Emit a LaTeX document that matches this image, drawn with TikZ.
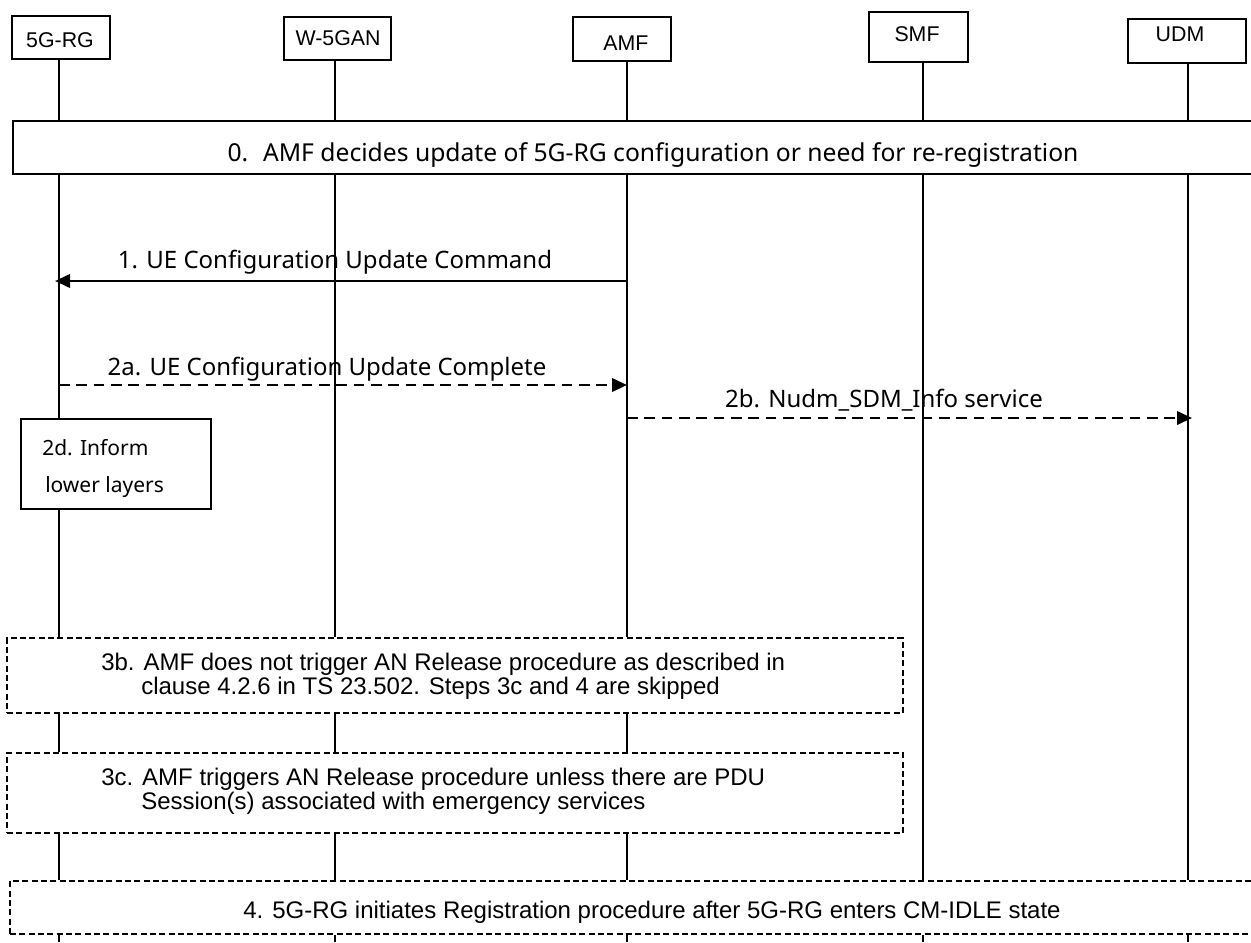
\documentclass[tikz,border=0pt]{standalone}
\usepackage{fontspec}
\setmainfont{Noto Sans}
\newfontfamily\arialf{Liberation Sans}
\usetikzlibrary{arrows.meta,fit}
\begin{document}
\begin{tikzpicture}[x=0.75pt,y=-0.75pt,
  hbox/.style={draw, line width=1.5pt, inner sep=0pt, fill=white},
  htext/.style={font=\arialf\fontsize{16}{18}\selectfont, inner sep=0pt},
  bigbox/.style={draw, line width=1.8pt, inner sep=0pt, fill=white},
  infobox/.style={draw, line width=1.6pt, inner sep=0pt, fill=white},
  dbox/.style={draw, line width=1.4pt, dash pattern=on 4.5pt off 2.5pt, inner sep=0pt, fill=white},
  life/.style={line width=1.4pt},
  msg/.style={line width=2.1pt, -{Triangle[length=11.25pt,width=10pt]}},
  dmsg/.style={msg, dash pattern=on 8pt off 5pt},
  lbl/.style={font=\fontsize{18}{21}\selectfont, inner sep=0pt, anchor=base},
  slbl/.style={font=\fontsize{15.75}{18}\selectfont, inner sep=0pt, anchor=base west},
  nlbl/.style={font=\arialf\fontsize{18}{20}\selectfont, inner sep=0pt, anchor=base west},
  nlblc/.style={font=\arialf\fontsize{18}{20}\selectfont, inner sep=0pt, anchor=base}]
\useasboundingbox (0,0) rectangle (1251,942);

% lifeline x positions and helper coordinates
\coordinate (x1) at (59,0);
\coordinate (x2) at (335,0);
\coordinate (x3) at (627,0);
\coordinate (x4) at (923,0);
\coordinate (x5) at (1188,0);
\coordinate (bot) at (0,942);
\coordinate (m1) at (0,281);
\coordinate (m2a) at (0,385);
\coordinate (m2b) at (0,418);

% header boxes
\node[hbox, fit={(12,16) (110,59)}] (h1) {};
\node[hbox, fit={(284,17) (391,60)}] (h2) {};
\node[hbox, fit={(573,17) (671,61)}] (h3) {};
\node[hbox, fit={(869,12) (968,62)}] (h4) {};
\node[hbox, fit={(1128,19) (1246,63)}] (h5) {};
\node[htext] (h1t) at (60,40) {5G-RG};
\node[htext] (h2t) at (338,38) {W-5GAN};
\node[htext] (h3t) at (626,43) {AMF};
\node[htext] (h4t) at (917,34) {SMF};
\node[htext] (h5t) at (1180,34) {UDM};

% step boxes
\node[bigbox, fit={(13,121) (1262,174)}] (b0) {};
\node[dbox, fit={(7,638) (903,713)}] (b3b) {};
\node[dbox, fit={(7,753) (903,833)}] (b3c) {};
\node[dbox, fit={(10,881) (1262,934)}] (b4) {};

% lifelines
\draw[life] (x1 |- h1.south) -- (x1 |- b0.north);
\draw[life] (x2 |- h2.south) -- (x2 |- b0.north);
\draw[life] (x3 |- h3.south) -- (x3 |- b0.north);
\draw[life] (x4 |- h4.south) -- (x4 |- b0.north);
\draw[life] (x5 |- h5.south) -- (x5 |- b0.north);
\foreach \x in {x1,x2,x3} {
  \draw[life] (\x |- b0.south) -- (\x |- b3b.north);
  \draw[life] (\x |- b3b.south) -- (\x |- b3c.north);
  \draw[life] (\x |- b3c.south) -- (\x |- b4.north);
}
\foreach \x in {x4,x5} {
  \draw[life] (\x |- b0.south) -- (\x |- b4.north);
}
\foreach \x in {x1,x2,x3,x4,x5} {
  \draw[life] (\x |- b4.south) -- (\x |- bot);
}

% 2d box (covers 5G-RG lifeline)
\node[infobox, fit={(21,419) (211,509)}] (b2d) {};
\node[slbl] (t2d1) at (42,455) {2d. Inform};
\node[slbl] (t2d2) at (45,492) {lower layers};

% messages
\draw[msg, shorten >=-3pt] (x3 |- m1) -- (x1 |- m1);
\draw[dmsg] (x1 |- m2a) -- (x3 |- m2a);
\draw[dmsg, shorten >=-3pt] (x3 |- m2b) -- (x5 |- m2b);

% labels
\node[lbl, font=\fontsize{18.5}{21}\selectfont] (l0) at (653,161) {0.\hspace{0.6em}AMF decides update of 5G-RG configuration or need for re-registration};
\node[lbl] (l1) at (335,268) {1. UE Configuration Update Command};
\node[lbl] (l2a) at (327,375) {2a. UE Configuration Update Complete};
\node[lbl] (l2b) at (884,407) {2b. Nudm\_SDM\_Info service};

\node[nlbl] (t3b1) at (101,670) {3b. AMF does not trigger AN Release procedure as described in};
\node[nlbl] (t3b2) at (141,694) {clause 4.2.6 in TS 23.502. Steps 3c and 4 are skipped};
\node[nlbl] (t3c1) at (101,785) {3c. AMF triggers AN Release procedure unless there are PDU};
\node[nlbl] (t3c2) at (141,809) {Session(s) associated with emergency services};
\node[nlblc] (t4) at (652,918) {4. 5G-RG initiates Registration procedure after 5G-RG enters CM-IDLE state};
\end{tikzpicture}
\end{document}
